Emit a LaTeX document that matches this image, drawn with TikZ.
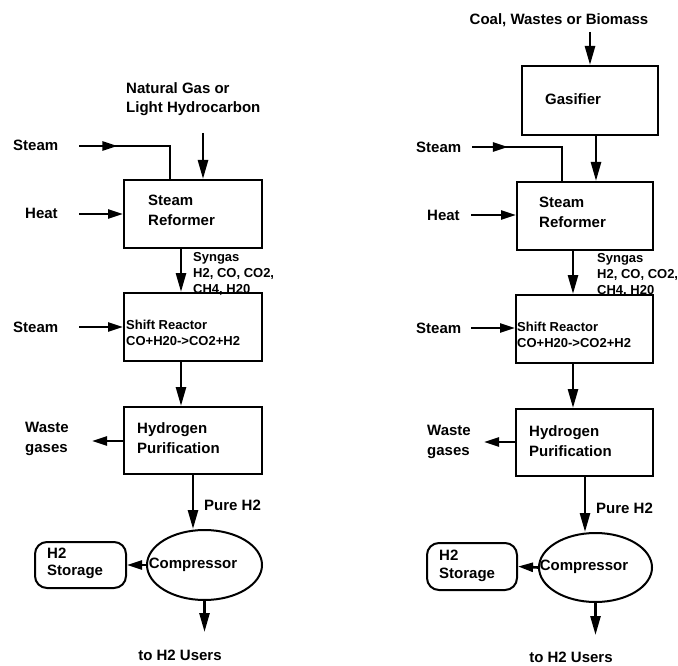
\documentclass[tikz,border=0pt]{standalone}
\usepackage{fontspec}
\setmainfont{Liberation Sans}
\usetikzlibrary{arrows.meta,shapes.geometric,decorations.markings}
\newcommand\lblfont{\fontsize{15}{20}\selectfont\bfseries}
\newcommand\smlfont{\fontsize{13}{16}\selectfont\bfseries}
\begin{document}
\begin{tikzpicture}[x=1pt,y=-1pt,
  ln/.style={line width=2.6pt, draw=black},
  arr/.style={ln, -{Triangle[length=19pt,width=10pt]}},
  sarr/.style={ln, -{Triangle[length=15pt,width=9pt]}},
  box/.style={draw, line width=2pt, rectangle, inner sep=0pt},
  ovalbox/.style={draw, ellipse, line width=2pt, inner sep=0pt},
  storebox/.style={draw, rectangle, rounded corners=12pt, line width=2pt, inner sep=0pt},
  txt/.style={inner sep=0pt, align=left, font=\lblfont},
  stxt/.style={inner sep=0pt, align=left, font=\smlfont},
  midarrow/.style={ln, postaction={decorate}, decoration={markings, mark=at position #1 with {\arrow{Triangle[length=15pt,width=9pt]}}}}
]
\useasboundingbox (0,0) rectangle (678,666);

% ---------------- left diagram ----------------
\node[box, minimum width=138pt, minimum height=68pt] (L-ref) at (193,214) {};
\node[txt, anchor=north west] (L-ref-t) at (148,195) {Steam\\Reformer};
\node[box, minimum width=138pt, minimum height=68pt] (L-shift) at (193,327) {};
\node[stxt, anchor=north west] (L-shift-t) at (126,320) {Shift Reactor\\CO+H20->CO2+H2};
\node[box, minimum width=138pt, minimum height=67pt] (L-pur) at (193,440.5) {};
\node[txt, anchor=north west] (L-pur-t) at (137,422) {Hydrogen\\Purification};
\node[ovalbox, minimum width=115pt, minimum height=70pt] (L-comp) at (204.5,565) {};
\node[txt] (L-comp-t) at (193,565) {Compressor};
\node[storebox, minimum width=91pt, minimum height=46pt] (L-sto) at (80.5,565) {};
\node[txt, anchor=north west, font={\fontsize{15}{17}\selectfont\bfseries}] (L-sto-t) at (47,548) {H2\\Storage};

\node[txt, anchor=north west, font={\fontsize{15}{19}\selectfont\bfseries}] (L-ng) at (126,82) {Natural Gas or\\Light Hydrocarbon};
\node[txt, anchor=west] (L-steam1) at (13,145) {Steam};
\node[txt, anchor=west] (L-heat) at (25,213.5) {Heat};
\node[stxt, anchor=north west] (L-syn) at (193,252) {Syngas\\H2, CO, CO2,\\CH4, H20};
\node[txt, anchor=west] (L-steam2) at (13,327) {Steam};
\node[txt, anchor=north west] (L-waste) at (25,422) {Waste\\gases};
\node[txt, anchor=north west] (L-pure) at (204,500) {Pure H2};
\node[txt] (L-users) at (180,655) {to H2 Users};

\coordinate (L-ng-s) at (203,133);
\coordinate (L-st1-s) at (79,146);
\coordinate (L-heat-s) at (79,214);
\coordinate (L-st2-s) at (79,327);
\coordinate (L-waste-e) at (92,441);
\coordinate (L-users-e) at (203,632);

\draw[arr] (L-ng-s) -- (L-ng-s |- L-ref.north);
\draw[midarrow=0.31] (L-st1-s) -| ([xshift=-23pt]L-ref.north);
\draw[sarr] (L-heat-s) -- (L-heat-s -| L-ref.west);
\draw[arr] ([xshift=-12pt]L-ref.south) -- ([xshift=-12pt]L-shift.north);
\draw[sarr] (L-st2-s) -- (L-st2-s -| L-shift.west);
\draw[arr] ([xshift=-12pt]L-shift.south) -- ([xshift=-12pt]L-pur.north);
\draw[sarr] (L-waste-e -| L-pur.west) -- (L-waste-e);
\draw[arr] (L-pur.south) -- (L-pur.south |- L-comp.north);
\draw[sarr] (L-comp.west) -- (L-sto.east);
\draw[arr] (L-comp.south) -- (L-comp.south |- L-users-e);

% ---------------- right diagram ----------------
\node[box, minimum width=136pt, minimum height=69pt] (R-gas) at (590,100.5) {};
\node[txt, anchor=north west] (R-gas-t) at (545,93) {Gasifier};
\node[box, minimum width=136pt, minimum height=68pt] (R-ref) at (585,216) {};
\node[txt, anchor=north west] (R-ref-t) at (539,197) {Steam\\Reformer};
\node[box, minimum width=137pt, minimum height=68pt] (R-shift) at (584.5,329) {};
\node[stxt, anchor=north west] (R-shift-t) at (517,322) {Shift Reactor\\CO+H20->CO2+H2};
\node[box, minimum width=137pt, minimum height=67pt] (R-pur) at (584.5,442.5) {};
\node[txt, anchor=north west] (R-pur-t) at (529,425) {Hydrogen\\Purification};
\node[ovalbox, minimum width=113pt, minimum height=69pt] (R-comp) at (595.5,567.5) {};
\node[txt] (R-comp-t) at (584,567) {Compressor};
\node[storebox, minimum width=90pt, minimum height=47pt] (R-sto) at (472,566.5) {};
\node[txt, anchor=north west, font={\fontsize{15}{18}\selectfont\bfseries}] (R-sto-t) at (439,550) {H2\\Storage};

\node[txt] (R-coal) at (559,20) {Coal, Wastes or Biomass};
\node[txt, anchor=west] (R-steam1) at (416,147) {Steam};
\node[txt, anchor=west] (R-heat) at (427,215) {Heat};
\node[stxt, anchor=north west] (R-syn) at (597,253) {Syngas\\H2, CO, CO2,\\CH4, H20};
\node[txt, anchor=west] (R-steam2) at (416,328.5) {Steam};
\node[txt, anchor=north west] (R-waste) at (427,425) {Waste\\gases};
\node[txt, anchor=north west] (R-pure) at (596,503) {Pure H2};
\node[txt] (R-users) at (571,657) {to H2 Users};

\coordinate (R-coal-s) at (590,32);
\coordinate (R-st1-s) at (472,147);
\coordinate (R-heat-s) at (471,215);
\coordinate (R-st2-s) at (471,328);
\coordinate (R-waste-e) at (484,442);
\coordinate (R-users-e) at (596,635);

\draw[arr] (R-coal-s) -- (R-coal-s |- R-gas.north);
\draw[arr] ([xshift=6pt]R-gas.south) -- ([xshift=11pt]R-ref.north);
\draw[midarrow=0.29] (R-st1-s) -| ([xshift=-23pt]R-ref.north);
\draw[sarr] (R-heat-s) -- (R-heat-s -| R-ref.west);
\draw[arr] ([xshift=-12pt]R-ref.south) -- ([xshift=-11.5pt]R-shift.north);
\draw[sarr] (R-st2-s) -- (R-st2-s -| R-shift.west);
\draw[arr] ([xshift=-11.5pt]R-shift.south) -- ([xshift=-11.5pt]R-pur.north);
\draw[sarr] (R-waste-e -| R-pur.west) -- (R-waste-e);
\draw[arr] ([xshift=0.5pt]R-pur.south) -- ([xshift=0.5pt]R-pur.south |- R-comp.north);
\draw[sarr] (R-comp.west) -- (R-sto.east);
\draw[arr] (R-comp.south) -- (R-comp.south |- R-users-e);
\end{tikzpicture}
\end{document}
